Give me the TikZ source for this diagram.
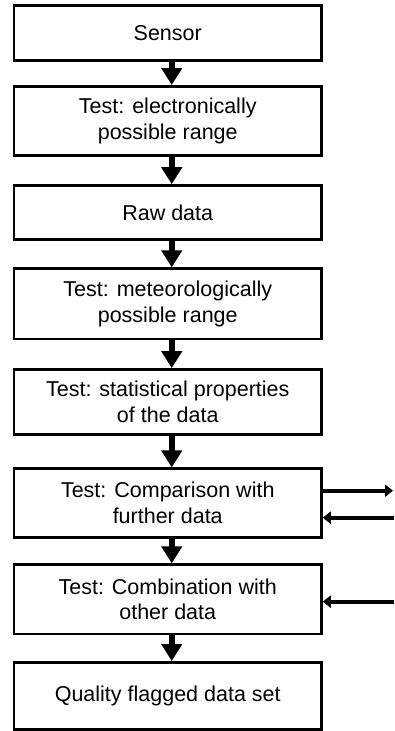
\documentclass[tikz,border=0pt]{standalone}
\usepackage{fontspec}
\setmainfont{Liberation Sans}
\usetikzlibrary{arrows.meta}

\begin{document}
\begin{tikzpicture}[x=1pt,y=1pt,
  box/.style={draw,line width=2.5pt,minimum width=307.5pt,inner sep=0pt,
    align=center,font=\fontsize{21.5}{25.7}\selectfont},
  flow/.style={line width=6.5pt,-{Triangle[width=20pt,length=17pt]}},
  side/.style={line width=4pt,-{Triangle[width=12pt,length=8pt]}}]
  \useasboundingbox (0,0) rectangle (394,731);
  % the chain of tests
  \node[box,minimum height=55.4pt] (sensor) at (167.75,698) {Sensor};
  \node[box,minimum height=69pt] (elec) at (167.75,610.2) {Test: electronically\\possible range};
  \node[box,minimum height=54.2pt] (raw) at (167.75,518.4) {Raw data};
  \node[box,minimum height=70.3pt] (meteo) at (167.75,427.2) {Test: meteorologically\\possible range};
  \node[box,minimum height=65.2pt] (stat) at (167.75,329) {Test: statistical properties\\of the data};
  \node[box,minimum height=68.6pt] (compare) at (167.75,228) {Test: Comparison with\\further data};
  \node[box,minimum height=69.3pt] (combine) at (167.75,131.7) {Test: Combination with\\other data};
  \node[box,minimum height=67.2pt] (flagged) at (167.75,35.1) {Quality flagged data set};
  \draw[flow] ([xshift=4pt]sensor.south) -- ([xshift=4pt]elec.north);
  \draw[flow] ([xshift=4pt]elec.south) -- ([xshift=4pt]raw.north);
  \draw[flow] ([xshift=4pt]raw.south) -- ([xshift=4pt]meteo.north);
  \draw[flow] ([xshift=4pt]meteo.south) -- ([xshift=4pt]stat.north);
  \draw[flow] ([xshift=4pt]stat.south) -- ([xshift=4pt]compare.north);
  \draw[flow] ([xshift=4pt]compare.south) -- ([xshift=4pt]combine.north);
  \draw[flow] ([xshift=4pt]combine.south) -- ([xshift=4pt]flagged.north);
  % exchange with other data
  \coordinate (out1) at (393,240.3);
  \coordinate (in1) at (394,213.3);
  \coordinate (in2) at (394,129.3);
  \draw[side] (compare.east |- out1) -- (out1);
  \draw[side] (in1) -- (compare.east |- in1);
  \draw[side] (in2) -- (combine.east |- in2);
\end{tikzpicture}
\end{document}
